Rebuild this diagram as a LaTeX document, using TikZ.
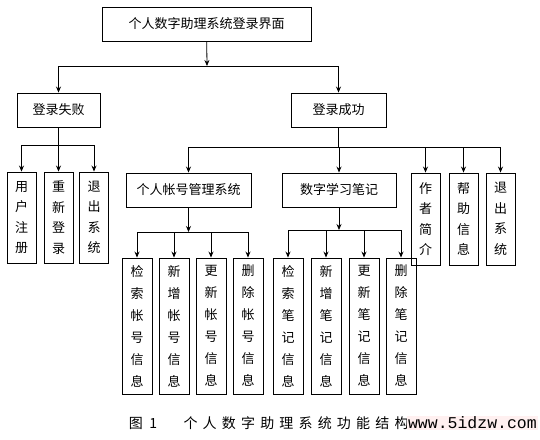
\documentclass[tikz,border=0pt]{standalone}
\usepackage{fontspec}
\setmainfont{Noto Sans CJK SC}
\newfontfamily\capfont[LetterSpace=37]{Noto Sans CJK SC}
\setmonofont{Liberation Mono}
\usetikzlibrary{arrows.meta}

\begin{document}
\begin{tikzpicture}[x=1pt,y=-1pt,
  box/.style={draw,line width=0.9pt,inner sep=0pt,font=\fontsize{13}{14}\selectfont},
  hbox/.style={box,minimum height=34pt},
  vbox/.style={box,align=center,font=\fontsize{13}{20.5}\selectfont,minimum width=29pt,minimum height=91pt},
  subbox/.style={box,align=center,font=\fontsize{13}{22}\selectfont,minimum width=30pt,minimum height=136pt},
  arrow/.style={-{Stealth[length=6pt,width=5pt]},line width=0.8pt},
  link/.style={line width=0.8pt}
]
\useasboundingbox (0,0) rectangle (540,439);
% top level
\node[hbox,minimum width=209pt] (login) at (206.5,24) {个人数字助理系统登录界面};
\node[hbox,minimum width=83pt] (fail) at (58.5,110) {登录失败};
\node[hbox,minimum width=95pt] (ok) at (338.5,110) {登录成功};
\coordinate (b0) at (207,66);
\draw[arrow] (login) -- (b0);
\draw[arrow] (b0) -| (fail.north);
\draw[arrow] (b0) -| (ok.north);
% failed login
\node[vbox] (reg) at (21.5,217.5) {用\\户\\注\\册};
\node[vbox] (relog) at (58.5,217.5) {重\\新\\登\\录};
\node[vbox] (quitA) at (94,217.5) {退\\出\\系\\统};
\coordinate (b1) at (58.5,145);
\draw[link] (fail) -- (b1);
\foreach \n in {reg,relog,quitA}
  \draw[arrow] (b1) -| (\n.north);
% successful login
\node[hbox,minimum width=125pt] (acct) at (188.5,190) {个人帐号管理系统};
\node[hbox,minimum width=114pt] (notes) at (339,190) {数字学习笔记};
\node[vbox,minimum height=92pt] (author) at (425.5,219) {作\\者\\简\\介};
\node[vbox,minimum height=92pt] (help) at (463.5,219) {帮\\助\\信\\息};
\node[vbox,minimum height=92pt] (quitB) at (500.5,219) {退\\出\\系\\统};
\coordinate (b2) at (338.5,147);
\draw[link] (ok) -- (b2);
\foreach \n in {acct,notes,author,help,quitB}
  \draw[arrow] (b2) -| (\n.north);
% account management
\node[subbox] (acctA) at (137,326) {检\\索\\帐\\号\\信\\息};
\node[subbox] (acctB) at (174,326) {新\\增\\帐\\号\\信\\息};
\node[subbox] (acctC) at (211,326) {更\\新\\帐\\号\\信\\息};
\node[subbox] (acctD) at (248,326) {删\\除\\帐\\号\\信\\息};
\coordinate (b3) at (188.5,232);
\draw[arrow] (acct) -- (b3);
\foreach \n in {acctA,acctB,acctC,acctD}
  \draw[arrow] (b3) -| (\n.north);
% study notes
\node[subbox] (noteA) at (288,326) {检\\索\\笔\\记\\信\\息};
\node[subbox] (noteB) at (326,326) {新\\增\\笔\\记\\信\\息};
\node[subbox] (noteC) at (364,326) {更\\新\\笔\\记\\信\\息};
\node[subbox] (noteD) at (401,326) {删\\除\\笔\\记\\信\\息};
\coordinate (b4) at (339,230);
\draw[arrow] (notes) -- (b4);
\foreach \n in {noteA,noteB,noteC,noteD}
  \draw[arrow] (b4) -| (\n.north);
% caption
\node[font=\fontsize{14}{15}\selectfont] (fig) at (143,423) {图~~1};
\node[anchor=west,font=\capfont\fontsize{14}{15}\selectfont] (title) at (180,423) {个人数字助理系统功能结构};
\node[anchor=east,fill=red!6,inner sep=1pt,font=\ttfamily\fontsize{16.5}{17}\selectfont] (mark) at (538,423) {www.5idzw.com};
\end{tikzpicture}
\end{document}
